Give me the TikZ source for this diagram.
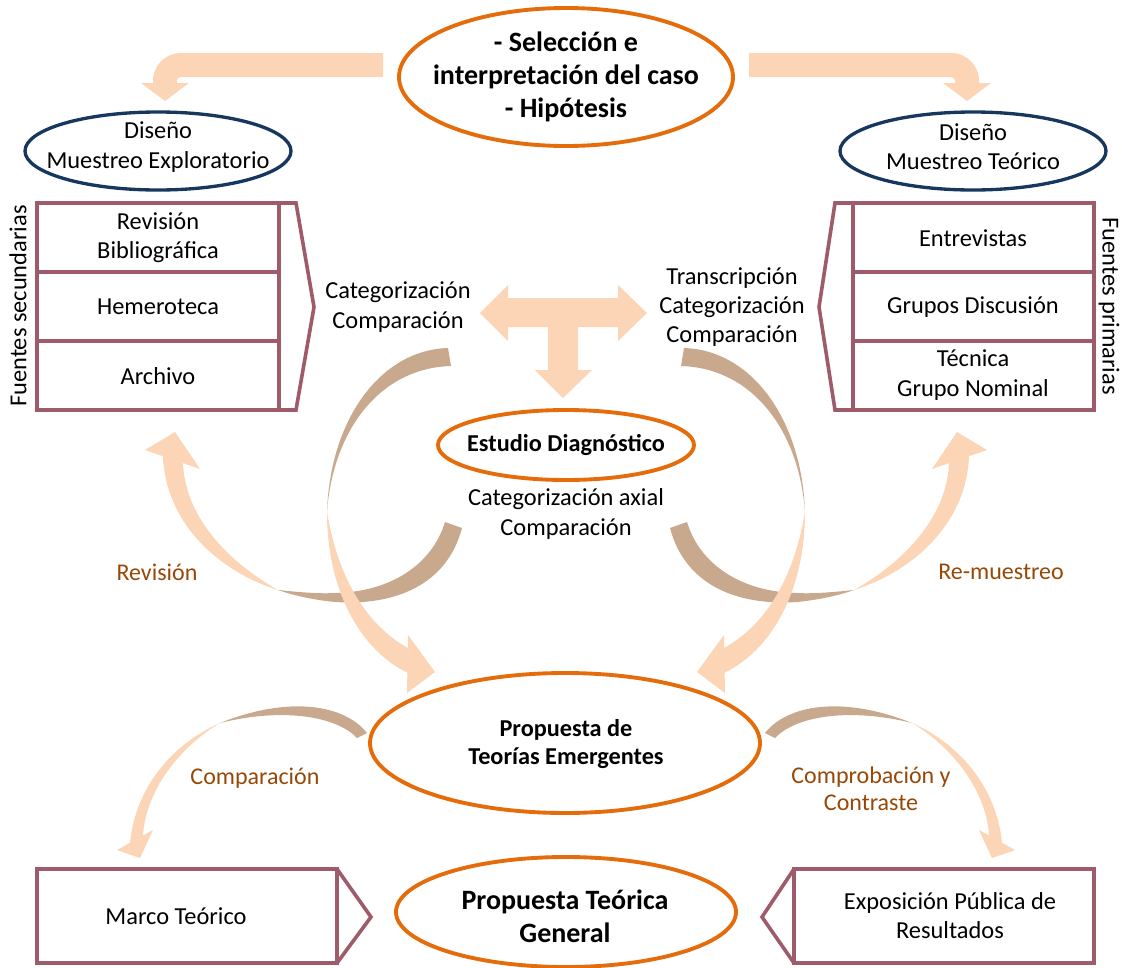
\documentclass[tikz,border=0pt]{standalone}
\usepackage{fontspec}
\setmainfont{Carlito}

\definecolor{casoorange}{HTML}{E46C0A}
\definecolor{disenonavy}{HTML}{17375E}
\definecolor{cellrose}{HTML}{9E5B6A}
\definecolor{peach}{HTML}{FBD5B5}
\definecolor{tanback}{HTML}{C9A98E}
\definecolor{labelbrown}{HTML}{974806}

\tikzset{
	oval/.style={draw=casoorange, line width=2.9pt},
	design/.style={draw=disenonavy, line width=2.5pt},
	cell/.style={draw=cellrose, line width=2.7pt},
	txt/.style={font=\fontsize{18.3}{21.9}\selectfont, align=center},
	txtb/.style={font=\fontsize{18.2}{21.5}\selectfont\bfseries, align=center},
	bigb/.style={font=\fontsize{21}{25}\selectfont\bfseries, align=center},
	lbl/.style={font=\fontsize{18}{20}\selectfont, text=labelbrown, align=center},
	flow/.style={fill=peach},
	back/.style={fill=tanback},
	band/.style={draw=peach, line width=18pt, rounded corners=12pt},
}

\begin{document}
\begin{tikzpicture}[x=0.75pt, y=-0.75pt]
		\useasboundingbox (0,0) rectangle (1122,968);
		
		\draw[band] (383,65) -| (165,84);
		\fill[flow] (141,83) -- (189,83) -- (165,101) -- cycle;
		\draw[band] (749,65) -| (967,84);
		\fill[flow] (943,83) -- (991,83) -- (967,101) -- cycle;
		
		\fill[flow] (480,313) -- (508,285) -- (508,298) -- (618,298) -- (618,285) -- (647,313) -- (618,341) -- (618,327) -- (578,327) -- (578,370) -- (592,370) -- (563,398) -- (535,370) -- (548,370) -- (548,327) -- (508,327) -- (508,341) -- cycle;
		
		\fill[back] (462,528) .. controls (447,585) and (395,606) .. (335,602) .. controls (315,600) and (295,596) .. (278,590) .. controls (298,592) and (318,594) .. (335,593) .. controls (390,592) and (432,565) .. (445,522) -- cycle;
		\fill[flow] (278,590) .. controls (215,570) and (165,520) .. (163,456) -- (183,463) .. controls (185,515) and (225,560) .. (278,590) -- cycle;
		\fill[flow] (145,450) -- (175,432) -- (200,469) -- cycle;
		\fill[back] (448,348) .. controls (380,350) and (330,420) .. (327,512) .. controls (333,430) and (380,368) .. (451,366) -- cycle;
		\fill[flow] (327,512) .. controls (327,590) and (360,650) .. (408,673) -- (408,648) .. controls (375,630) and (340,590) .. (327,512) -- cycle;
		\fill[flow] (408,635) -- (435,672) -- (407,693) -- cycle;
		\fill[back] (367,733) .. controls (345,705) and (290,695) .. (220,723) .. controls (280,708) and (335,715) .. (357,738) -- cycle;
		\fill[flow] (220,723) .. controls (170,745) and (135,790) .. (130,843) -- (143,836) .. controls (145,795) and (175,750) .. (220,723) -- cycle;
		\fill[flow] (117,850) -- (153,830) -- (140,858) -- cycle;
		
		\begin{scope}[shift={(1132,0)}, xscale=-1]
		\fill[back] (462,528) .. controls (447,585) and (395,606) .. (335,602) .. controls (315,600) and (295,596) .. (278,590) .. controls (298,592) and (318,594) .. (335,593) .. controls (390,592) and (432,565) .. (445,522) -- cycle;
		\fill[flow] (278,590) .. controls (215,570) and (165,520) .. (163,456) -- (183,463) .. controls (185,515) and (225,560) .. (278,590) -- cycle;
		\fill[flow] (145,450) -- (175,432) -- (200,469) -- cycle;
		\fill[back] (448,348) .. controls (380,350) and (330,420) .. (327,512) .. controls (333,430) and (380,368) .. (451,366) -- cycle;
		\fill[flow] (327,512) .. controls (327,590) and (360,650) .. (408,673) -- (408,648) .. controls (375,630) and (340,590) .. (327,512) -- cycle;
		\fill[flow] (408,635) -- (435,672) -- (407,693) -- cycle;
		\fill[back] (367,733) .. controls (345,705) and (290,695) .. (220,723) .. controls (280,708) and (335,715) .. (357,738) -- cycle;
		\fill[flow] (220,723) .. controls (170,745) and (135,790) .. (130,843) -- (143,836) .. controls (145,795) and (175,750) .. (220,723) -- cycle;
		\fill[flow] (117,850) -- (153,830) -- (140,858) -- cycle;
		\end{scope}
		
		\draw[oval] (566,77) ellipse (167 and 69) node[bigb] (caso) {- Selección e\\interpretación del caso\\- Hipótesis};
		
		\draw[design] (158,151) ellipse (133 and 39);
		\node[txt] (disL) at (158,147) {Diseño\\Muestreo Exploratorio};
		\draw[design] (973,151) ellipse (133 and 39);
		\node[txt] (disR) at (973,147) {Diseño\\Muestreo Teórico};
		
		\draw[cell] (37,203) rectangle (279,410);
		\draw[cell] (37,272) -- (279,272) (37,341) -- (279,341);
		\draw[cell] (279,203) -- (296,203) -- (314,307) -- (296,410) -- (279,410);
		\node[txt] (revbib) at (158,238) {Revisión\\Bibliográfica};
		\node[txt] (hemero) at (158,307) {Hemeroteca};
		\node[txt] (archivo) at (158,376) {Archivo};
		\node[txt, rotate=90] (fsec) at (18,306) {Fuentes secundarias};
		
		\draw[cell] (853,203) rectangle (1094,410);
		\draw[cell] (853,272) -- (1094,272) (853,341) -- (1094,341);
		\draw[cell] (853,203) -- (835,203) -- (819,307) -- (835,410) -- (853,410);
		\node[txt] (entrev) at (973,238) {Entrevistas};
		\node[txt] (grupos) at (973,307) {Grupos Discusión};
		\node[txt] (tecnica) at (973,375) {Técnica\\Grupo Nominal};
		\node[txt, rotate=-90] (fprim) at (1109,306) {Fuentes primarias};
		
		\node[txt] (catL) at (398,307) {Categorización\\Comparación};
		\node[txt] (catR) at (732,307) {Transcripción\\Categorización\\Comparación};
		
		\draw[oval] (566,445) ellipse (128 and 35) node[txtb] (estudio) {Estudio Diagnóstico};
		\node[txt] (axial) at (566,514) {Categorización axial\\Comparación};
		
		\node[lbl] (lrev) at (157,572) {Revisión};
		\node[lbl] (lremu) at (1001,572) {Re-muestreo};
		
		\draw[oval] (565,743) ellipse (195 and 70);
		\node[txtb] (emerg) at (566,744) {Propuesta de\\Teorías Emergentes};
		\node[lbl] (lcomp) at (255,778) {Comparación};
		\node[lbl] (lcontr) at (871,789) {Comprobación y\\Contraste};
		
		\draw[cell] (37,869) rectangle (337,963);
		\draw[cell] (337,869) -- (371,917) -- (337,963);
		\node[txt] (marco) at (176,916) {Marco Teórico};
		\draw[oval] (566,912) ellipse (170 and 55);
		\node[bigb] (general) at (565,916) {Propuesta Teórica\\General};
		\draw[cell] (794,869) rectangle (1094,963);
		\draw[cell] (794,869) -- (762,917) -- (794,963);
		\node[txt] (expo) at (950,916) {Exposición Pública de\\Resultados};
\end{tikzpicture}
\end{document}
